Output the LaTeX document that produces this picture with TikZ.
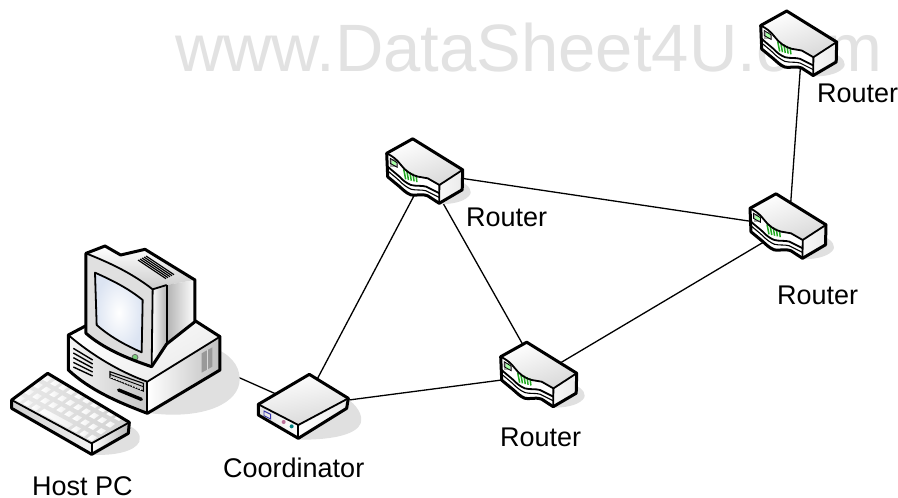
\documentclass[tikz,border=0pt]{standalone}
\usepackage{fontspec}
\setmainfont{Liberation Sans}
\definecolor{shadowc}{HTML}{E0E0E0}
\definecolor{markc}{HTML}{E2E2E2}
\definecolor{screenc}{HTML}{DCE4F2}
\definecolor{ledc}{HTML}{22AA22}
\newcommand\kbdkey[4]{%
  \shade[left color=white,right color=black!6] ({35+240*#1+108*#3},{540+130*#1-80*#3}) -- ({35+240*#2+108*#3},{540+130*#2-80*#3}) -- ({35+240*#2+108*#4},{540+130*#2-80*#4}) -- ({35+240*#1+108*#4},{540+130*#1-80*#4}) -- cycle;}
\tikzset{
  link/.style={line width=1.3pt,black},
  outline/.style={line width=3pt,line join=round,black},
  edge/.style={line width=1.8pt,line join=round,black},
  fineline/.style={line width=1.1pt,black},
  lbl/.style={anchor=base west,inner sep=0pt,font=\fontsize{27}{30}\selectfont},
  routerpic/.pic={
    \fill[shadowc] (74,28) .. controls (82,32) and (87,38) .. (82,43) .. controls (76,49) and (64,51) .. (52,51) -- cycle;
    % front body
    \fill[white] (0,0) .. controls (6,3) and (10,6) .. (14.3,11.7) .. controls (18,17) and (25,22) .. (31,23.3) -- (41,25) -- (52.7,31.7) -- (52.5,50) -- (41,42.5) .. controls (34,40) and (28,43) .. (24,41.5) .. controls (19,39.5) and (16,36) .. (12.5,33) -- (1,23.5) -- cycle;
    % top face
    \shade[left color=white,right color=black!15,shading angle=20] (0,0) .. controls (6,3) and (10,6) .. (14.3,11.7) .. controls (18,17) and (25,22) .. (31,23.3) -- (41,25) -- (52.7,31.7) -- (76,16.5) -- (26,-14.5) -- cycle;
    % right face
    \shade[left color=black!3,middle color=black!25,right color=black!8] (52.7,31.7) -- (76,16.5) -- (75.5,36.5) -- (52.5,50) -- cycle;
    % front stripes
    \draw[edge] (1,13.3) .. controls (5,17) and (9,20) .. (12.7,23.3) .. controls (16,27) and (20,30) .. (24.3,31.7) .. controls (29,33) and (35,32) .. (39.3,33.3) -- (52.7,40);
    \draw[fineline] (1,17.5) .. controls (5,21) and (9,24) .. (12.7,27.5) .. controls (16,31) and (20,34) .. (24.3,35.9) .. controls (29,37.2) and (35,36.2) .. (39.3,37.5) -- (52.7,44.2);
    % port
    \fill[black!35] (3.5,6) rectangle (10.5,13.5);
    \fill[green!35!white] (5,7.5) rectangle (9.5,12);
    \draw[line width=.8pt] (3.5,5) -- (10.5,9.5) -- (10.5,14) -- (3.5,10) -- cycle;
    % ticks
    \foreach \k in {0,1,2,3,4}
      \draw[line width=1.5pt,ledc] ({17+\k*3.1},{16+\k*1.5}) -- ({19+\k*2.8},{26+\k*.7});
    % outlines
    \draw[edge] (0,0) .. controls (6,3) and (10,6) .. (14.3,11.7) .. controls (18,17) and (25,22) .. (31,23.3) -- (41,25) -- (52.7,31.7) -- (76,16.5);
    \draw[edge] (52.7,31.7) -- (52.5,50);
    \draw[outline] (0,0) -- (26,-14.5) -- (76,16.5) -- (75.5,36.5) -- (52.5,50) -- (41,42.5) .. controls (34,40) and (28,43) .. (24,41.5) .. controls (19,39.5) and (16,36) .. (12.5,33) -- (1,23.5) -- cycle;
  }
}
\begin{document}
\begin{tikzpicture}[x=1pt,y=-1pt]
\useasboundingbox (0,0) rectangle (898,498);
\fill[white] (0,0) rectangle (898,498);
\node[anchor=base west,inner sep=0pt,text=markc,font=\fontsize{67}{70}\selectfont] (mark) at (175,71) {www.DataSheet4U.com};

% connection points
\coordinate (pc) at (150,338);
\coordinate (coord) at (303,406);
\coordinate (r1) at (426,173);
\coordinate (r2) at (540,375);
\coordinate (r3) at (789,227);
\coordinate (r4) at (802,45);

\draw[link] (pc) -- (coord);
\draw[link] (coord) -- (r1);
\draw[link] (coord) -- (r2);
\draw[link] (r1) -- (r2);
\draw[link] (r1) -- (r3);
\draw[link] (r2) -- (r3);
\draw[link] (r3) -- (r4);

% routers
\pic at (386.7,153.3) {routerpic};
\pic at (500.7,356.7) {routerpic};
\pic at (750,208.3) {routerpic};
\pic at (760.7,25.5) {routerpic};

% coordinator
\begin{scope}[shift={(250,365)},x=1/3*1pt,y=-1/3*1pt]
  \fill[shadowc] (290,100) .. controls (320,120) and (340,150) .. (332,175) .. controls (320,205) and (260,225) .. (145,224) -- cycle;
  \shade[left color=white,right color=black!15,shading angle=10] (25,118) -- (178,28) -- (295,100) -- (145,180) -- cycle;
  \shade[left color=black!12,right color=white] (25,118) -- (145,180) -- (145,220) -- (25,150) -- cycle;
  \shade[left color=white,middle color=black!25,right color=black!8] (145,180) -- (295,100) -- (290,130) -- (145,220) -- cycle;
  \draw[line width=.9pt,blue!60!black!80] (42,138) -- (62,148) -- (62,162) -- (42,152) -- cycle;
  \fill[magenta!60!black!70] (101,171) circle (2pt);
  \fill[teal] (125,184) circle (2pt);
  \draw[edge] (25,118) -- (145,180) -- (295,100);
  \draw[edge] (145,180) -- (145,220);
  \draw[outline] (25,118) -- (178,28) -- (295,100) -- (290,130) -- (145,220) -- (25,150) -- cycle;
\end{scope}

% host PC, drawn in 3x coordinates
\begin{scope}[shift={(0,220)},x=1/3*1pt,y=-1/3*1pt]
  % shadow of the computer
  \fill[shadowc] (655,390) .. controls (700,410) and (725,450) .. (718,490) .. controls (705,560) and (590,600) .. (440,578) -- cycle;
  % base
  \shade[left color=white,right color=black!8,shading angle=30] (205,345) -- (260,315) -- (590,300) -- (660,350) -- (442,485) .. controls (370,460) and (280,410) .. (205,345) -- cycle;
  \shade[left color=black!4,right color=black!22] (205,345) .. controls (280,410) and (370,460) .. (442,485) -- (442,580) .. controls (350,545) and (270,510) .. (205,450) -- cycle;
  \shade[left color=white,right color=black!25] (442,485) -- (660,350) -- (660,450) -- (442,580) -- cycle;
  \fill[black!40] (605,400) -- (637,382) -- (637,440) -- (605,458) -- cycle;
  \draw[line width=.8pt,black!15] (621,391) -- (621,449);
  \foreach \k in {0,1,2,3,4}
    \draw[line width=1.4pt] (220,{385+\k*14}) -- (278,{420+\k*12});
  \draw[line width=1.1pt,fill=black!20] (330,455) -- (430,490) -- (430,513) -- (330,473) -- cycle;
  \draw[line width=.9pt,white,dotted] (332,472) -- (428,511);
  \draw[line width=.9pt] (330,463) -- (430,500);
  \draw[line width=3.4pt,line cap=round] (356,510) -- (424,538);
  \draw[edge] (205,345) .. controls (280,410) and (370,460) .. (442,485) -- (660,350);
  \draw[edge] (442,485) -- (442,580);
  \draw[outline] (262,315) -- (205,345) -- (205,450) .. controls (270,510) and (350,545) .. (442,580) -- (660,450) -- (660,350) -- (585,302);
  % monitor
  \shade[left color=white,right color=black!20,shading angle=0] (258,100) -- (315,78) -- (362,105) -- (435,88) -- (585,180) -- (500,195) -- (458,208) .. controls (390,155) and (320,125) .. (258,100) -- cycle;
  \shade[left color=black!30,middle color=black!12,right color=white] (500,195) -- (585,180) -- (585,305) -- (500,372) -- cycle;
  \shade[left color=white,right color=black!30] (458,208) -- (500,195) -- (500,372) -- (455,440) -- cycle;
  \shade[left color=black!12,middle color=white,right color=black!14,shading angle=20] (258,100) .. controls (320,125) and (390,155) .. (458,208) -- (455,440) .. controls (380,415) and (310,385) .. (258,340) -- cycle;
  \draw[line width=1.8pt,inner color=white,outer color=screenc,line join=round] (285,158) .. controls (335,180) and (385,205) .. (428,240) -- (425,397) .. controls (375,375) and (330,350) .. (290,315) -- cycle;
  \fill[black!60] (405,412) circle (3.4pt);
  \fill[ledc!60!white] (405,412) circle (2.4pt);
  \foreach \k in {0,1,2,3,4}
    \draw[line width=1.2pt] ({414+\k*6},{120-\k*3}) -- ({498+\k*6},{176-\k*3});
  \draw[edge] (500,195) -- (500,372);
  \draw[edge] (258,100) .. controls (320,125) and (390,155) .. (458,208) -- (500,195);
  \draw[edge] (458,208) -- (455,440);
  \draw[outline] (258,100) -- (315,78) -- (362,105) -- (435,88) -- (585,180) -- (585,305) -- (500,372) -- (455,440) .. controls (380,415) and (310,385) .. (258,340) -- cycle;
  % keyboard
  \fill[shadowc] (380,615) .. controls (410,625) and (425,645) .. (418,665) .. controls (405,695) and (340,708) .. (275,704) -- cycle;
  \shade[left color=black!8,right color=black!18] (35,540) -- (143,460) -- (388,607) -- (275,670) -- cycle;
  \shade[left color=black!18,right color=black!6] (35,540) -- (275,670) -- (275,703) -- (35,565) -- cycle;
  \shade[left color=white,right color=black!28] (275,670) -- (388,607) -- (385,640) -- (275,703) -- cycle;
  \foreach \u in {0,1,...,9}
    \foreach \v in {1,2,3}
      \kbdkey{(\u+.2)/10}{(\u+.8)/10}{(\v+.22)/4}{(\v+.78)/4};
  \foreach \u in {0,1,2,7,8,9}
    \kbdkey{(\u+.2)/10}{(\u+.8)/10}{.055}{.195};
  \kbdkey{.32}{.68}{.055}{.195}
  \draw[edge] (35,540) -- (275,670) -- (388,607);
  \draw[edge] (275,670) -- (275,703);
  \draw[outline] (35,540) -- (143,460) -- (388,607) -- (385,640) -- (275,703) -- (35,565) -- cycle;
\end{scope}

% labels
\node[lbl] (lr1) at (466,226) {Router};
\node[lbl] (lr2) at (500,446) {Router};
\node[lbl] (lr3) at (777,304) {Router};
\node[lbl] (lr4) at (817,102) {Router};
\node[lbl] (lc) at (223,477) {Coordinator};
\node[lbl] (lh) at (32,495) {Host PC};
\end{tikzpicture}
\end{document}
